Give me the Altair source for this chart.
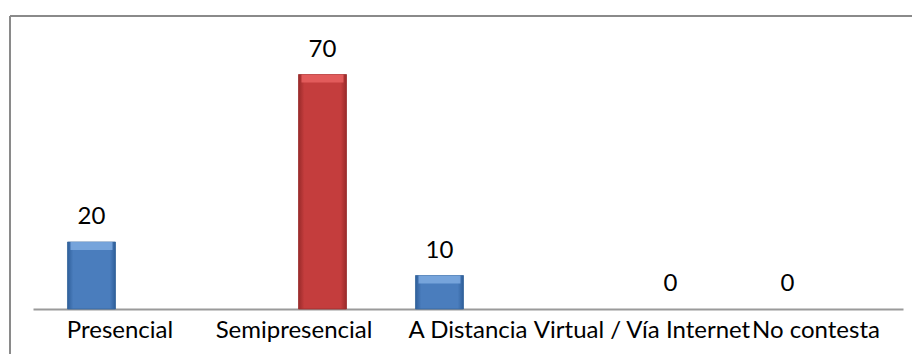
import altair as alt
import pandas as pd

# Survey answers: modality of study
categories = ["Presencial", "Semipresencial", "A Distancia", "Virtual / Vía Internet", "No contesta"]
series = ["Serie 1", "Serie 2", "Serie 1", "Serie 2", "Serie 1"]
values = [20, 70, 10, 0, 0]

df = pd.DataFrame({"categoria": categories, "serie": series, "valor": values})

FONT = "Lato"

x_enc = alt.X(
    "categoria:N",
    sort=categories,
    scale=alt.Scale(paddingInner=0, paddingOuter=0),
    axis=alt.Axis(
        title=None, ticks=False, labelAngle=0, labelFont=FONT, labelFontSize=24,
        labelColor="#000000", labelBaseline="alphabetic", labelPadding=28,
        labelLimit=0, labelOverlap=False,
        domainColor="#9a9a9a", domainWidth=2,
    ),
)
xoff_enc = alt.XOffset(
    "serie:N",
    scale=alt.Scale(domain=["Serie 1", "Serie 2"], paddingInner=0.158, paddingOuter=0.605),
)
y_enc = alt.Y("valor:Q", scale=alt.Scale(domain=[0, 80]), axis=None)

base = alt.Chart(df).encode(x=x_enc, xOffset=xoff_enc, y=y_enc)


def bar_fill(edge, main):
    return alt.Gradient(
        gradient="linear", x1=0, y1=0, x2=1, y2=0,
        stops=[
            alt.GradientStop(color=edge, offset=0),
            alt.GradientStop(color=main, offset=0.12),
            alt.GradientStop(color=main, offset=0.88),
            alt.GradientStop(color=edge, offset=1),
        ],
    )


blue_sel = (alt.datum.serie == "Serie 1") & (alt.datum.valor > 0)
red_sel = (alt.datum.serie == "Serie 2") & (alt.datum.valor > 0)

blue_bars = base.transform_filter(blue_sel).mark_bar(
    color=bar_fill("#2f5f9a", "#4a7dbd"), width=48, stroke="#35649c", strokeWidth=0.8
)
red_bars = base.transform_filter(red_sel).mark_bar(
    color=bar_fill("#992a2a", "#c43d3d"), width=48, stroke="#9a2e2e", strokeWidth=0.8
)

# light bevel along the top edge of each bar
bevel_base = base.encode(y2=alt.Y2("valor:Q"))
blue_bevel = bevel_base.transform_filter(blue_sel).mark_bar(
    color="#7eaae0", width=42, y2Offset=8, opacity=0.85
)
red_bevel = bevel_base.transform_filter(red_sel).mark_bar(
    color="#e86060", width=42, y2Offset=8, opacity=0.85
)

labels = base.mark_text(
    font=FONT, fontSize=24, color="#000000", baseline="alphabetic", dy=-18
).encode(text="valor:Q")

# chart-area frame (left and top edges)
frame_df = pd.DataFrame({"k": [0]})
frame_left = alt.Chart(frame_df).mark_rule(color="#8a8a8a", strokeWidth=2).encode(
    x=alt.value(-23), y=alt.value(-25), y2=alt.value(400)
)
frame_top = alt.Chart(frame_df).mark_rule(color="#8a8a8a", strokeWidth=2).encode(
    x=alt.value(-23), x2=alt.value(900), y=alt.value(-25)
)

chart = (
    alt.layer(blue_bars, red_bars, blue_bevel, red_bevel, labels, frame_left, frame_top)
    .properties(
        width=870,
        height=268,
        autosize=alt.AutoSizeParams(type="none"),
        padding={"left": 33, "top": 41, "right": 9, "bottom": 45},
        view=alt.ViewBackground(stroke="transparent"),
    )
    .configure_view(stroke="transparent")
    .configure(background="#ffffff")
)

chart.save("out.html", embed_options={"renderer": "svg", "actions": False})
